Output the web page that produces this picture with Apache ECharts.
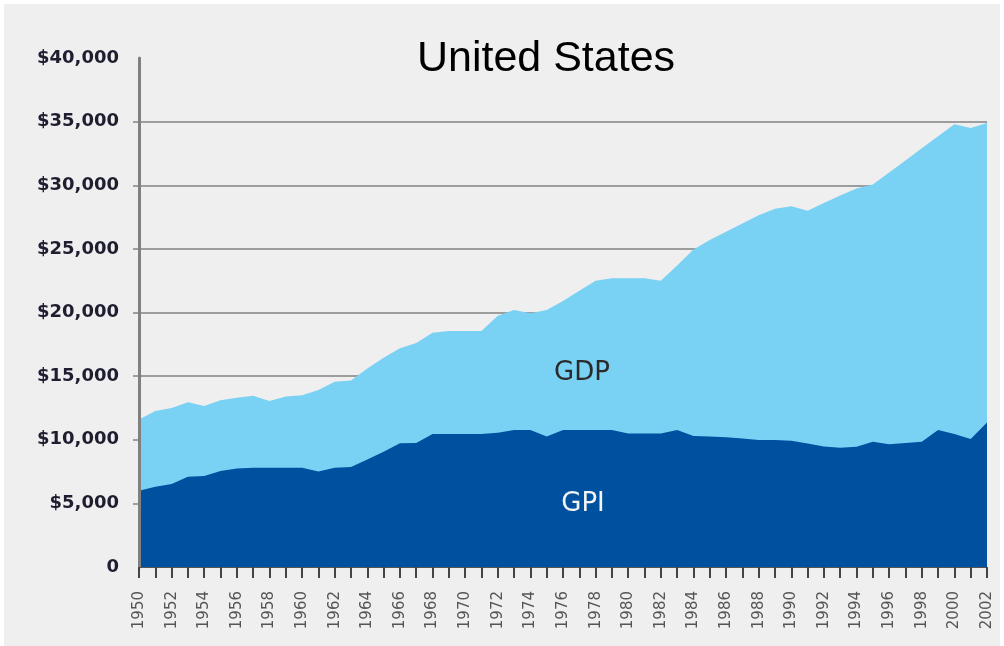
<!DOCTYPE html>
<html>
<head>
<meta charset="utf-8">
<script src="https://cdn.jsdelivr.net/npm/echarts@6/dist/echarts.min.js"></script>
<style>
  html, body { margin: 0; padding: 0; background: #ffffff; }
  #chart { position: absolute; left: 4px; top: 4px; width: 996px; height: 642px; background: #efefef; }
</style>
</head>
<body>
<div id="chart"></div>
<script>
// Years on the category axis
const years = [
  '1950','1951','1952','1953','1954','1955','1956','1957','1958','1959',
  '1960','1961','1962','1963','1964','1965','1966','1967','1968','1969',
  '1970','1971','1972','1973','1974','1975','1976','1977','1978','1979',
  '1980','1981','1982','1983','1984','1985','1986','1987','1988','1989',
  '1990','1991','1992','1993','1994','1995','1996','1997','1998','1999',
  '2000','2001','2002'
];

// Per-capita GDP (dollars)
const gdp = [
  11600, 12250, 12500, 12950, 12650, 13100, 13300, 13450, 13050, 13400,
  13500, 13900, 14550, 14650, 15600, 16450, 17200, 17600, 18400, 18550,
  18550, 18550, 19750, 20200, 19950, 20200, 20900, 21700, 22500, 22700,
  22700, 22700, 22500, 23700, 24950, 25700, 26350, 27000, 27650, 28150,
  28350, 28000, 28600, 29200, 29750, 30050, 31000, 31950, 32900, 33850,
  34800, 34500, 34900
];

// Per-capita Genuine Progress Indicator (dollars)
const gpi = [
  6000, 6300, 6520, 7100, 7150, 7550, 7750, 7800, 7800, 7800,
  7800, 7500, 7800, 7850, 8450, 9060, 9720, 9750, 10450, 10450,
  10450, 10450, 10550, 10770, 10770, 10250, 10770, 10770, 10770, 10770,
  10500, 10500, 10500, 10770, 10300, 10250, 10200, 10100, 9980, 9980,
  9920, 9710, 9460, 9370, 9450, 9850, 9650, 9750, 9850, 10770,
  10450, 10050, 11350
];

// Horizontal reference lines (each one also forms the tick left of the axis)
const gridValues = [5000, 10000, 15000, 20000, 25000, 30000, 35000];

const GRID_LEFT = 135;
const GRID_RIGHT = 13;
const CHART_W = 996;

const chart = echarts.init(document.getElementById('chart'), null, { renderer: 'canvas' });

chart.setOption({
  animation: false,
  backgroundColor: '#efefef',
  grid: { left: GRID_LEFT, right: GRID_RIGHT, top: 54, bottom: 79, containLabel: false, outerBoundsMode: 'none' },
  xAxis: {
    type: 'category',
    data: years,
    boundaryGap: false,
    z: 5,
    axisLine: { show: true, lineStyle: { color: '#555555', width: 1 } },
    axisTick: { show: true, interval: 0, length: 11, lineStyle: { color: '#444444', width: 2 } },
    axisLabel: {
      interval: 1,
      rotate: 90,
      margin: 24,
      fontFamily: 'DejaVu Sans',
      fontSize: 15,
      color: '#555555'
    },
    splitLine: { show: false }
  },
  yAxis: {
    type: 'value',
    min: 0,
    max: 40000,
    interval: 5000,
    z: 5,
    axisLine: { show: true, lineStyle: { color: '#808080', width: 3 } },
    axisTick: { show: false },
    axisLabel: {
      margin: 20,
      fontFamily: 'DejaVu Sans',
      fontWeight: 'bold',
      fontSize: 18,
      color: '#1e1e30',
      formatter: v => v === 0 ? '0' : '$' + v.toLocaleString('en-US')
    },
    splitLine: { show: false }
  },
  series: [
    {
      // carrier for the grid lines so they sit behind the areas
      type: 'line',
      data: years.map(() => null),
      z: 1,
      silent: true,
      showSymbol: false,
      markLine: {
        z: 1,
        silent: true,
        symbol: ['none', 'none'],
        label: { show: false },
        lineStyle: { color: '#9d9d9d', width: 2, type: 'solid' },
        data: gridValues.map(v => [
          { yAxis: v, x: GRID_LEFT - 6 },
          { yAxis: v, x: CHART_W - GRID_RIGHT }
        ])
      }
    },
    {
      name: 'GDP',
      type: 'line',
      data: gdp,
      z: 2,
      symbol: 'none',
      showSymbol: false,
      lineStyle: { width: 0 },
      areaStyle: { color: '#79d1f4', opacity: 1 }
    },
    {
      name: 'GPI',
      type: 'line',
      data: gpi,
      z: 3,
      symbol: 'none',
      showSymbol: false,
      lineStyle: { width: 0 },
      areaStyle: { color: '#0050a0', opacity: 1 }
    }
  ],
  graphic: [
    {
      type: 'text', x: 542, y: 55, z: 10,
      style: {
        text: 'United States',
        font: '43px "Liberation Sans", Arial, sans-serif',
        fill: '#000000',
        textAlign: 'center',
        textVerticalAlign: 'middle'
      }
    },
    {
      type: 'text', x: 578, y: 369, z: 10,
      style: {
        text: 'GDP',
        font: '26px "DejaVu Sans", sans-serif',
        fill: '#2a2a2a',
        textAlign: 'center',
        textVerticalAlign: 'middle'
      }
    },
    {
      type: 'text', x: 579, y: 500, z: 10,
      style: {
        text: 'GPI',
        font: '26px "DejaVu Sans", sans-serif',
        fill: '#f4f4f4',
        textAlign: 'center',
        textVerticalAlign: 'middle'
      }
    }
  ]
});
</script>
</body>
</html>
